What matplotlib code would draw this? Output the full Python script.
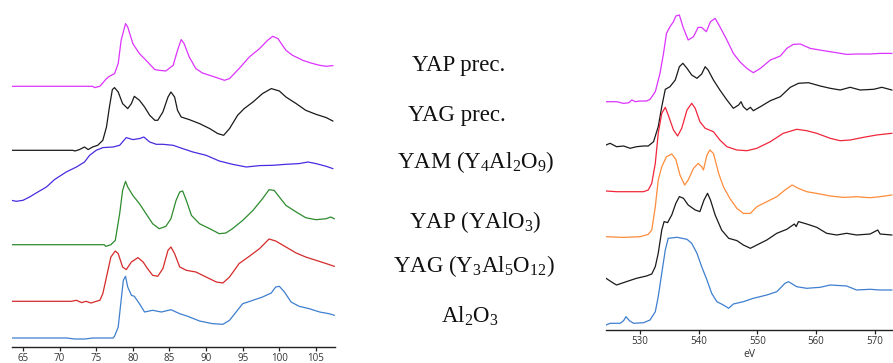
import matplotlib
matplotlib.use("Agg")
import matplotlib.pyplot as plt

plt.rcParams['mathtext.fontset'] = 'custom'
plt.rcParams['mathtext.rm'] = 'Liberation Serif'
plt.rcParams['mathtext.default'] = 'regular'

# ---------------- Left panel (Al L-edge region) ----------------
left_names = ["YAP prec.", "YAG prec.", "YAM", "YAP", "YAG", "Al2O3"]
left_colors = ["#dd33ff", "#1a1a1a", "#4a2be0", "#2e8b2e", "#d42a2a", "#3f7fcf"]
left_offsets = [260.7, 196.7, 146.7, 102.3, 45.7, 9.0]

yapp_l_x = [63.5, 74.5, 74.8, 75.5, 76.4, 76.8, 77.5, 78.0, 78.4, 79.0, 79.3, 80.0, 80.9, 81.8, 83.0, 83.6, 84.5, 85.5, 86.1, 86.6, 87.0, 87.7, 88.6, 89.5, 90.9, 92.5, 93.2, 94.5, 95.9, 97.3, 98.4, 99.1, 99.8, 100.9, 101.8, 103.2, 104.3, 105.5, 106.4, 107.3]
yapp_l_y = [0, 0, -1.3, 0, 7.7, 10, 12.7, 22.7, 46, 62.7, 59.3, 42.7, 32.7, 26, 16.7, 16, 15.3, 21, 36, 46.7, 42.7, 29.3, 17.7, 13.3, 10, 6, 7.7, 17.7, 29.3, 37.7, 46, 50, 47.7, 36, 31, 26, 23.3, 21, 20, 20.7]

yagp_l_x = [63.5, 71.8, 72.1, 72.7, 73.4, 73.9, 74.5, 75.2, 75.9, 76.4, 76.8, 77.2, 77.5, 78.0, 78.6, 79.3, 79.8, 80.2, 80.9, 81.6, 82.3, 83.0, 83.4, 84.1, 84.8, 85.2, 85.7, 86.1, 86.6, 87.7, 89.1, 90.5, 91.6, 92.4, 93.2, 94.3, 95.2, 96.4, 97.7, 98.9, 100.0, 100.9, 102.3, 103.6, 105.0, 106.4, 107.3]
yagp_l_y = [0, 0, -0.7, 0.7, 3.3, 0.7, 3.3, 5, 10, 23.3, 43.3, 60.7, 62.7, 58.3, 46.7, 41.7, 46.7, 54, 50, 43.3, 35, 30, 30, 38.3, 53.3, 58.3, 53.3, 40, 33.3, 30.7, 26.7, 21.7, 16.7, 15, 21.7, 35, 41.7, 48.3, 56.7, 61.7, 59.3, 53.3, 46.7, 40, 36, 32.7, 29.3]

yam_l_x = [63.4, 64.1, 65.0, 65.9, 66.8, 68.2, 69.3, 70.9, 72.3, 73.4, 74.1, 75.0, 75.9, 77.3, 78.2, 79.1, 80.0, 80.9, 81.5, 82.3, 83.2, 84.1, 85.5, 86.8, 88.2, 90.0, 91.8, 93.6, 95.5, 97.3, 99.1, 100.9, 102.7, 103.9, 105.0, 106.4, 107.3]
yam_l_y = [0, -1, 0, 3.3, 7.3, 13.3, 20.7, 28.3, 33.3, 38.3, 45, 50, 52.7, 53.3, 55, 62.7, 60.7, 61.7, 63.3, 58.3, 56, 56, 55, 51.7, 48.3, 45, 39.3, 36, 33.3, 34.7, 35, 36, 36.7, 38.3, 36.7, 34, 31.7]

yap_l_x = [63.5, 76.1, 76.3, 77.0, 77.6, 78.2, 78.6, 79.0, 79.3, 80.0, 80.9, 81.8, 82.7, 83.6, 84.5, 85.2, 85.9, 86.4, 86.8, 87.3, 88.0, 89.1, 90.5, 91.8, 92.7, 93.6, 95.0, 96.4, 97.7, 98.6, 99.3, 100.0, 100.9, 102.3, 103.6, 105.0, 106.4, 107.0, 107.5]
yap_l_y = [0, 0, -1.7, 0, 4.3, 31, 54.3, 63.3, 57.7, 49.3, 41, 31, 21, 16, 18.3, 26, 44.3, 52.7, 53.7, 44.3, 29.3, 21, 16, 11, 11.7, 16, 24.3, 34.3, 46, 55, 54.3, 47.7, 39.3, 32.7, 27, 25, 26, 27.7, 26]

yag_l_x = [63.5, 71.6, 72.3, 73.0, 73.6, 74.3, 75.0, 75.5, 75.9, 76.4, 77.0, 77.6, 78.0, 78.6, 79.1, 79.8, 80.7, 81.4, 82.0, 82.7, 83.4, 84.1, 84.8, 85.2, 85.7, 86.4, 87.3, 88.6, 90.0, 91.4, 92.3, 93.2, 94.5, 95.9, 97.3, 98.6, 99.5, 100.9, 102.3, 103.6, 105.0, 106.4, 107.5]
yag_l_y = [0, 0, 1, -1.3, 0, -1.7, 0, 1, 7.7, 24.3, 44.3, 50.3, 47.7, 34.3, 31.7, 39.3, 43.7, 39.3, 32.7, 26, 25, 32.7, 51, 54.3, 47.7, 34.3, 31, 29.3, 24.3, 19.3, 18.3, 24.3, 37.7, 45, 52.7, 62.3, 60.3, 54.3, 48.3, 44.3, 41, 37.7, 35]

al_l_x = [63.5, 71.0, 72.0, 73.5, 74.5, 77.3, 77.5, 78.0, 78.4, 78.7, 79.0, 79.3, 79.8, 80.2, 80.9, 81.6, 82.7, 83.9, 85.2, 86.4, 87.5, 89.1, 90.9, 92.3, 93.2, 94.1, 95.0, 96.4, 97.7, 98.9, 99.5, 100.0, 100.7, 101.6, 102.7, 104.1, 105.5, 106.8, 107.5]
al_l_y = [0, 0, -1, -1, 0, 0, 1.7, 11, 37.7, 57.7, 61.7, 51, 42.7, 41.7, 34.3, 26, 27.7, 26, 28.3, 24.3, 21.7, 17, 14.3, 13.7, 17.7, 26, 34.3, 37.7, 41, 45, 51, 51.7, 46, 36, 31.7, 29.3, 26, 24.3, 22.7]

left_x = [yapp_l_x, yagp_l_x, yam_l_x, yap_l_x, yag_l_x, al_l_x]
left_y = [yapp_l_y, yagp_l_y, yam_l_y, yap_l_y, yag_l_y, al_l_y]
left_ticks = [65, 70, 75, 80, 85, 90, 95, 100, 105]

# ---------------- Right panel (O K-edge region) ----------------
right_colors = ["#dd33ff", "#1a1a1a", "#f0263a", "#ff8c3a", "#1a1a1a", "#3f7fcf"]
right_offsets = [228.3, 185.0, 139.0, 93.3, 51.7, 5.0]

yapp_r_x = [524.2, 526.0, 527.2, 528.1, 528.6, 529.2, 530.0, 531.1, 531.7, 532.6, 533.4, 534.0, 534.5, 535.1, 535.7, 536.1, 536.7, 537.3, 538.2, 539.1, 539.9, 540.5, 541.3, 542.0, 542.8, 543.6, 544.8, 545.9, 547.0, 548.2, 549.3, 550.5, 552.2, 553.9, 555.0, 556.1, 557.3, 559.0, 561.3, 563.5, 565.2, 566.9, 569.2, 570.9, 572.9]
yapp_r_y = [0, 0, -1.7, -1, 1.7, 0, 0.7, 0.7, 2.3, 10, 28.3, 48.3, 68.3, 75, 80, 85.7, 86.7, 75, 61.7, 65, 74.3, 74.3, 70, 80, 83.3, 75, 61.7, 48.3, 40, 33.3, 29, 33.3, 41.7, 45.7, 53.3, 57.3, 57.7, 53.3, 51, 49, 47.3, 47.7, 47.7, 48.3, 48.3]

yagp_r_x = [524.2, 524.9, 526.0, 527.2, 528.3, 529.4, 530.6, 531.4, 532.3, 533.1, 533.7, 534.3, 535.1, 536.0, 536.7, 537.3, 538.0, 538.8, 539.7, 540.5, 541.1, 541.6, 542.5, 543.6, 544.8, 545.9, 546.8, 547.2, 547.6, 548.2, 548.8, 549.3, 550.5, 552.2, 553.9, 555.6, 557.0, 558.7, 560.7, 562.4, 564.1, 565.8, 567.5, 569.8, 571.2, 572.9]
yagp_r_y = [0, 1.7, -1.7, -1, -3.3, -1.7, -1, -1, 3.3, 18.3, 38.3, 55.7, 58.3, 65, 78.3, 81.7, 76.7, 70, 66.7, 71, 78.3, 75, 65, 55, 45, 36.7, 40, 43.3, 38.3, 35, 37.7, 34.3, 38.3, 44.3, 48.3, 57.7, 61.7, 62.3, 59, 56.7, 55, 57.7, 55, 55.7, 57.7, 55]

yam_r_x = [524.2, 526.0, 528.3, 530.6, 531.4, 532.0, 532.6, 533.1, 533.7, 534.3, 534.8, 535.7, 536.4, 537.1, 538.0, 538.8, 539.4, 540.2, 541.1, 542.5, 543.6, 544.8, 546.5, 548.2, 549.9, 552.2, 554.4, 556.7, 558.4, 560.1, 562.4, 564.1, 565.8, 568.1, 570.3, 572.9]
yam_r_y = [0, -0.7, -0.7, -0.7, 1, 7.7, 27.7, 57.7, 77.7, 83.7, 76, 61, 55, 62.7, 81, 87.7, 82.7, 69.3, 62.7, 59.3, 51, 44.3, 41, 40.3, 42.7, 49.3, 57.7, 61.7, 60.3, 57.7, 52.7, 50.3, 51, 53.7, 56, 57.7]

yap_r_x = [524.2, 527.2, 530.0, 531.4, 532.0, 532.6, 533.1, 533.7, 534.5, 535.4, 536.1, 536.8, 537.6, 538.2, 539.1, 539.9, 540.5, 540.8, 541.4, 541.9, 542.5, 543.4, 544.2, 545.3, 546.5, 547.6, 548.8, 549.9, 551.6, 553.3, 554.7, 555.9, 557.0, 558.4, 560.1, 562.4, 564.7, 566.9, 569.2, 570.9, 572.9]
yap_r_y = [0, -0.7, 0, 2.3, 6.7, 30, 56.7, 70, 80, 82.7, 77.3, 61.7, 51.7, 56.7, 68.3, 73.3, 70, 66.7, 81.7, 86.7, 83.3, 63.3, 50, 38.3, 28.3, 23.3, 23.3, 30, 35, 40, 46.7, 51.7, 48.3, 45, 43.3, 40.7, 39.3, 40, 39, 40, 41.7]

yag_r_x = [524.2, 525.5, 526.0, 527.7, 529.4, 531.1, 532.0, 532.6, 533.1, 533.7, 534.1, 534.7, 535.4, 536.1, 536.7, 537.4, 538.2, 539.4, 540.2, 540.9, 541.5, 542.0, 542.8, 543.9, 545.1, 546.5, 547.6, 548.8, 549.9, 551.6, 553.3, 555.0, 556.3, 556.6, 557.0, 558.4, 560.1, 561.8, 563.5, 565.2, 566.9, 569.2, 570.5, 570.9, 572.9]
yag_r_y = [0, -5, -6.7, -3.3, 0, 2.3, 4.3, 11.7, 25, 48.3, 56.7, 55.7, 63.3, 75, 81.7, 80, 73.3, 68.3, 66.7, 78.3, 85, 78.3, 63.3, 48.3, 40, 37.7, 33.3, 30, 33.3, 38.3, 45, 49, 54.3, 51.7, 56.7, 54.3, 51, 45, 43.3, 45, 43.3, 44.3, 48.3, 44.3, 43.3]

al_r_x = [524.2, 524.9, 526.6, 527.2, 527.6, 528.2, 528.9, 530.6, 531.7, 532.6, 533.1, 533.7, 534.3, 534.8, 536.3, 538.0, 538.8, 539.7, 540.5, 541.4, 542.2, 543.1, 544.2, 545.1, 545.9, 547.6, 549.3, 551.6, 553.3, 554.7, 555.3, 556.7, 558.4, 560.7, 562.4, 565.2, 566.9, 569.2, 570.9, 572.9]
al_r_y = [0, 1.7, 1.7, 4.3, 8.3, 4.3, 1.7, 2.3, 5, 13.3, 28.3, 51.7, 75, 86.7, 87.7, 85.7, 81.7, 71.7, 58.3, 45, 31.7, 23.3, 20, 16.7, 21, 23.3, 26.7, 30, 33.3, 41.7, 43.3, 38.3, 36.7, 37.7, 40, 39, 35, 35.7, 35, 35]

right_x = [yapp_r_x, yagp_r_x, yam_r_x, yap_r_x, yag_r_x, al_r_x]
right_y = [yapp_r_y, yagp_r_y, yam_r_y, yap_r_y, yag_r_y, al_r_y]
right_ticks = [530, 540, 550, 560, 570]

# ---------------- Middle labels ----------------
labels = ["YAP prec.", "YAG prec.", r"YAM (Y$_4$Al$_2$O$_9$)", r"YAP (YAlO$_3$)",
          r"YAG (Y$_3$Al$_5$O$_{12}$)", r"Al$_2$O$_3$"]
label_xy = [(459, 65), (457, 115), (476, 162), (475, 222), (474, 266), (470, 316)]

W, H = 893, 363
fig = plt.figure(figsize=(W / 100, H / 100), dpi=100)

def style_axis(ax, ticks):
    for s in ("left", "right", "top"):
        ax.spines[s].set_visible(False)
    ax.spines["bottom"].set_linewidth(1.0)
    ax.spines["bottom"].set_color("#222222")
    ax.set_yticks([])
    ax.set_xticks(ticks)
    ax.tick_params(axis="x", direction="out", length=3, width=0.9, colors="#222222",
                   labelsize=7, pad=1.5, labelcolor="#333333")
    for lab in ax.get_xticklabels():
        lab.set_fontfamily("Open Sans")

# Left axes
axL = fig.add_axes([12 / W, (H - 347) / H, 323 / W, 347 / H])
for xs, ys, off, c in zip(left_x, left_y, left_offsets, left_colors):
    axL.plot(xs, [v + off for v in ys], color=c, lw=0.9)
axL.set_xlim(63.5, 107.6)
axL.set_ylim(0, 347)
style_axis(axL, left_ticks)

# Right axes
axR = fig.add_axes([606 / W, (H - 330) / H, 287 / W, 330 / H])
for xs, ys, off, c in zip(right_x, right_y, right_offsets, right_colors):
    axR.plot(xs, [v + off for v in ys], color=c, lw=0.9)
axR.set_xlim(524.2, 573.1)
axR.set_ylim(0, 330)
style_axis(axR, right_ticks)
axR.set_xlabel("eV", fontsize=7.5, family="Open Sans", color="#333333", labelpad=1)

for txt, (px, py) in zip(labels, label_xy):
    fig.text(px / W, 1 - py / H, txt, ha="center", va="center",
             fontsize=16.5, family="Liberation Serif", color="#111111")

fig.savefig("out.png", dpi=100)
